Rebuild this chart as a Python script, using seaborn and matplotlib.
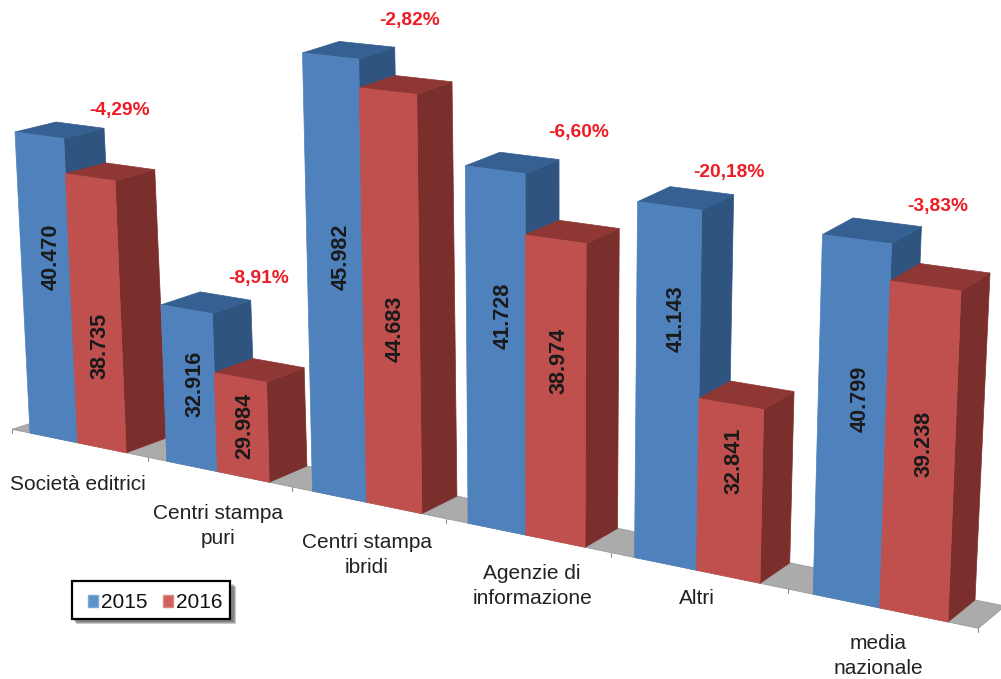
import numpy as np
import pandas as pd
import matplotlib
matplotlib.use('Agg')
import matplotlib.pyplot as plt
from matplotlib.patches import Polygon, Patch, Rectangle
import seaborn as sns

# Dati
categorie = ['Società editrici', 'Centri stampa\npuri', 'Centri stampa\nibridi',
             'Agenzie di\ninformazione', 'Altri', 'media\nnazionale']
valori_2015 = [40470, 32916, 45982, 41728, 41143, 40799]
valori_2016 = [38735, 29984, 44683, 38974, 32841, 39238]
variazioni = ['-4,29%', '-8,91%', '-2,82%', '-6,60%', '-20,18%', '-3,83%']

# Posizione delle etichette (frazione dell'altezza della barra)
frazioni_2015 = [0.61, 0.535, 0.557, 0.605, 0.695, 0.572]
frazioni_2016 = [0.385, 0.52, 0.44, 0.606, 0.68, 0.53]
pos_variazioni = [(120, 111), (259, 279), (410, 21), (579, 133), (729, 173), (938, 206)]
pos_categorie = [(78, 485), (218, 526), (367, 555), (532, 586), (697, 599), (878, 656)]

ASSE_MIN = 25000
LARGHEZZA = 0.71

# Punti di calibrazione della prospettiva: (x categoria, valore, px, py)
PIANO_FRONTE = [(-LARGHEZZA / 2, ASSE_MIN, 30, 433), (-LARGHEZZA / 2, 40470, 15, 132),
                (5 + LARGHEZZA / 2, ASSE_MIN, 948, 622), (5 + LARGHEZZA / 2, 39238, 961, 291)]
PIANO_FONDO = [(-LARGHEZZA / 2, ASSE_MIN, 72, 419), (-LARGHEZZA / 2, 40470, 56, 122),
               (5 + LARGHEZZA / 2, ASSE_MIN, 975, 600), (5 + LARGHEZZA / 2, 39238, 990, 273)]

COLORI = {2015: ('#4F81BD', '#2F5480', '#376092'), 2016: ('#C0504D', '#7B2F2D', '#8E3735')}


def omografia(punti):
    A, b = [], []
    for u, v, px, py in punti:
        n = (v - ASSE_MIN) / 10000
        A.append([u, n, 1, 0, 0, 0, -u * px, -n * px])
        A.append([0, 0, 0, u, n, 1, -u * py, -n * py])
        b += [px, py]
    return np.append(np.linalg.solve(np.array(A, float), np.array(b, float)), 1).reshape(3, 3)


H_FRONTE = omografia(PIANO_FRONTE)
H_FONDO = omografia(PIANO_FONDO)


def proietta(H, u, v):
    x, y, w = H @ np.array([u, (v - ASSE_MIN) / 10000, 1])
    return x / w, y / w


sns.set_theme(style='white')
plt.rcParams['font.family'] = ['Liberation Sans', 'DejaVu Sans']

fig = plt.figure(figsize=(10.01, 6.79), dpi=100)
ax_barre = fig.add_axes([0, 0, 1, 1])
ax = fig.add_axes([0, 0, 1, 1])
ax.set_xlim(0, 1001)
ax.set_ylim(679, 0)
ax.axis('off')

# Le barre vengono calcolate da seaborn, poi riportate in prospettiva
df = pd.DataFrame({
    'categoria': categorie * 2,
    'anno': [2015] * len(categorie) + [2016] * len(categorie),
    'valore': valori_2015 + valori_2016,
})
sns.barplot(data=df, x='categoria', y='valore', hue='anno', width=LARGHEZZA, gap=0,
            legend=False, ax=ax_barre)
ax_barre.set_visible(False)

barre = []
for anno, container in zip([2015, 2016], ax_barre.containers):
    for i, rect in enumerate(container):
        barre.append((rect.get_x(), rect.get_width(), rect.get_height(), anno, i))
barre.sort(key=lambda b: b[0])

# Pavimento
u_min, u_max = -0.49, 5.51
pavimento = [proietta(H_FRONTE, u_min, ASSE_MIN), proietta(H_FRONTE, u_max, ASSE_MIN),
             proietta(H_FONDO, u_max, ASSE_MIN), proietta(H_FONDO, u_min, ASSE_MIN)]
ax.add_patch(Polygon(pavimento, closed=True, fc='#ABABAB', ec='#9A9A9A', lw=0.6, zorder=1))
for t in np.arange(-0.49, 6):
    x0, y0 = proietta(H_FRONTE, t, ASSE_MIN)
    ax.plot([x0, x0], [y0, y0 + 4], color='#8C8C8C', lw=0.8, zorder=1)

for x0, w, h, anno, i in barre:
    fronte, lato, cima = COLORI[anno]
    x1 = x0 + w
    a = proietta(H_FRONTE, x0, ASSE_MIN)
    b = proietta(H_FRONTE, x1, ASSE_MIN)
    c = proietta(H_FRONTE, x1, h)
    d = proietta(H_FRONTE, x0, h)
    e = proietta(H_FONDO, x1, ASSE_MIN)
    f = proietta(H_FONDO, x1, h)
    g = proietta(H_FONDO, x0, h)
    ax.add_patch(Polygon([b, e, f, c], closed=True, fc=lato, ec=lato, lw=0.5, zorder=2))
    ax.add_patch(Polygon([d, c, f, g], closed=True, fc=cima, ec=cima, lw=0.5, zorder=2))
    ax.add_patch(Polygon([a, b, c, d], closed=True, fc=fronte, ec=fronte, lw=0.5, zorder=2))

# Etichette dei valori
for x0, w, h, anno, i in barre:
    frazione = (frazioni_2015 if anno == 2015 else frazioni_2016)[i]
    pos = 0.62 if anno == 2015 else 0.56
    lx, ly = proietta(H_FRONTE, x0 + w * pos, ASSE_MIN + frazione * (h - ASSE_MIN))
    testo = f'{int(h):,}'.replace(',', '.')
    ax.text(lx, ly, testo, rotation=90, ha='center', va='center', fontsize=15.6,
            fontweight='bold', color='#1A1A1A', zorder=5)

for testo, (px, py) in zip(variazioni, pos_variazioni):
    ax.text(px, py, testo, ha='center', va='center', fontsize=13.8, fontweight='bold',
            color='#ED1C24', zorder=5)

for testo, (px, py) in zip(categorie, pos_categorie):
    ax.text(px, py, testo, ha='center', va='center', fontsize=15, color='#222222',
            linespacing=1.42, zorder=5)

# Legenda: cornice con ombra sfumata e voci senza riquadro
for k in range(6):
    ax.add_patch(Rectangle((74 + k * 0.6, 584 + k * 0.6), 160 - k * 0.2, 38 - k * 0.2,
                           fc='#444444', ec='none', alpha=0.16, zorder=6))
ax.add_patch(Rectangle((72, 581), 158, 38, fc='white', ec='black', lw=1.6, zorder=6.5))
maniglie = [Patch(fc='#5B93CC', ec='#7FA8D0', label='2015'),
            Patch(fc='#D2605B', ec='#DB8985', label='2016')]
leg = ax.legend(handles=maniglie, ncol=2, loc='upper left', bbox_to_anchor=(88, 593.5),
                bbox_transform=ax.transData, borderaxespad=0, fontsize=15, frameon=False,
                handlelength=0.48, handleheight=0.48, handletextpad=0.14, columnspacing=0.77,
                borderpad=0)
for t in leg.get_texts():
    t.set_color('#111111')
leg.set_zorder(7)

plt.savefig('out.png', dpi=100)
